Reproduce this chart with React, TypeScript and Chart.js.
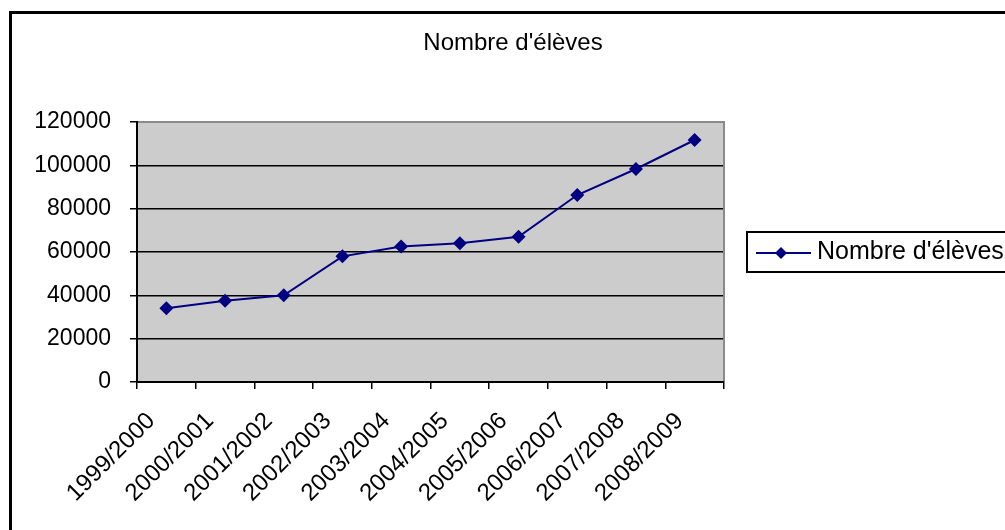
import React, { useEffect, useRef } from 'react';
import { Chart, registerables } from 'chart.js';

Chart.register(...registerables);

const categories = [
  '1999/2000',
  '2000/2001',
  '2001/2002',
  '2002/2003',
  '2003/2004',
  '2004/2005',
  '2005/2006',
  '2006/2007',
  '2007/2008',
  '2008/2009',
];
const eleves = [34000, 37500, 40000, 58000, 62500, 64000, 67000, 86300, 98300, 111700];
const seriesLabel = "Nombre d'élèves";
const titleText = "Nombre d'élèves";
const yMin = 0;
const yMax = 120000;
const yStep = 20000;

const FONT = '"Liberation Sans", Arial, sans-serif';
const NAVY = '#000080';

export default function App() {
  const ref = useRef<HTMLCanvasElement>(null);

  useEffect(() => {
    const canvas = ref.current;
    if (!canvas) return;

    const framePlugin = {
      id: 'frame',
      beforeDraw(chart: any) {
        const { ctx, chartArea: a } = chart;
        ctx.save();
        ctx.fillStyle = '#ffffff';
        ctx.fillRect(0, 0, chart.width, chart.height);
        ctx.fillStyle = '#cccccc';
        ctx.fillRect(a.left, a.top, a.right - a.left, a.bottom - a.top);
        ctx.strokeStyle = '#000000';
        ctx.lineWidth = 3;
        ctx.strokeRect(10.5, 12.5, 1400, 900);
        ctx.restore();
      },
      beforeDatasetsDraw(chart: any) {
        const { ctx, chartArea: a } = chart;
        ctx.save();
        ctx.strokeStyle = '#8a8a8a';
        ctx.lineWidth = 2;
        ctx.beginPath();
        ctx.moveTo(a.left + 1, a.top);
        ctx.lineTo(a.right, a.top);
        ctx.lineTo(a.right, a.bottom - 1);
        ctx.stroke();
        ctx.restore();
      },
      afterDraw(chart: any) {
        const { ctx } = chart;
        ctx.save();
        // title
        ctx.fillStyle = '#000000';
        ctx.font = `24px ${FONT}`;
        ctx.textAlign = 'center';
        ctx.textBaseline = 'middle';
        ctx.fillText(titleText, 513, 43);
        // legend
        ctx.strokeStyle = '#000000';
        ctx.lineWidth = 2;
        ctx.strokeRect(747, 232, 400, 40);
        ctx.strokeStyle = NAVY;
        ctx.lineWidth = 2;
        ctx.beginPath();
        ctx.moveTo(756, 253);
        ctx.lineTo(811, 253);
        ctx.stroke();
        ctx.fillStyle = NAVY;
        ctx.beginPath();
        ctx.moveTo(781, 247);
        ctx.lineTo(787, 253);
        ctx.lineTo(781, 259);
        ctx.lineTo(775, 253);
        ctx.closePath();
        ctx.fill();
        ctx.fillStyle = '#000000';
        ctx.font = `25px ${FONT}`;
        ctx.textAlign = 'left';
        ctx.textBaseline = 'middle';
        ctx.fillText(seriesLabel, 817, 252);
        ctx.restore();
      },
    };

    const chart = new Chart(canvas, {
      type: 'line',
      data: {
        labels: categories,
        datasets: [
          {
            label: seriesLabel,
            data: eleves,
            borderColor: NAVY,
            backgroundColor: NAVY,
            borderWidth: 2,
            pointStyle: 'rectRot',
            pointRadius: 7,
            pointHoverRadius: 7,
            pointBorderWidth: 0,
            tension: 0,
          },
        ],
      },
      options: {
        animation: false,
        responsive: false,
        devicePixelRatio: 1,
        layout: { padding: { left: 0, right: 281, top: 122, bottom: 0 } },
        plugins: {
          legend: { display: false },
          title: { display: false },
          tooltip: { enabled: false },
        },
        scales: {
          x: {
            type: 'category',
            offset: true,
            grid: {
              offset: true,
              drawOnChartArea: false,
              drawTicks: true,
              tickLength: 7,
              color: '#000000',
              lineWidth: 1.5,
            },
            border: { display: true, color: '#000000', width: 2 },
            ticks: {
              autoSkip: false,
              minRotation: 45,
              maxRotation: 45,
              labelOffset: -15,
              padding: 18,
              color: '#000000',
              font: { family: FONT, size: 24 },
            },
            afterFit(scale: any) {
              scale.height = 148;
            },
          },
          y: {
            min: yMin,
            max: yMax,
            grid: {
              color: '#000000',
              lineWidth: 1.5,
              tickLength: 7,
              drawTicks: true,
            },
            border: { display: true, color: '#000000', width: 2 },
            ticks: {
              stepSize: yStep,
              padding: 19,
              color: '#000000',
              font: { family: FONT, size: 23 },
              callback: (v: any) => String(v),
            },
            afterFit(scale: any) {
              scale.width = 137;
            },
          },
        },
      },
      plugins: [framePlugin],
    });

    return () => chart.destroy();
  }, []);

  return (
    <div style={{ position: 'absolute', left: 0, top: 0, width: 1005, height: 530 }}>
      <canvas ref={ref} width={1005} height={530} style={{ display: 'block' }} />
    </div>
  );
}
